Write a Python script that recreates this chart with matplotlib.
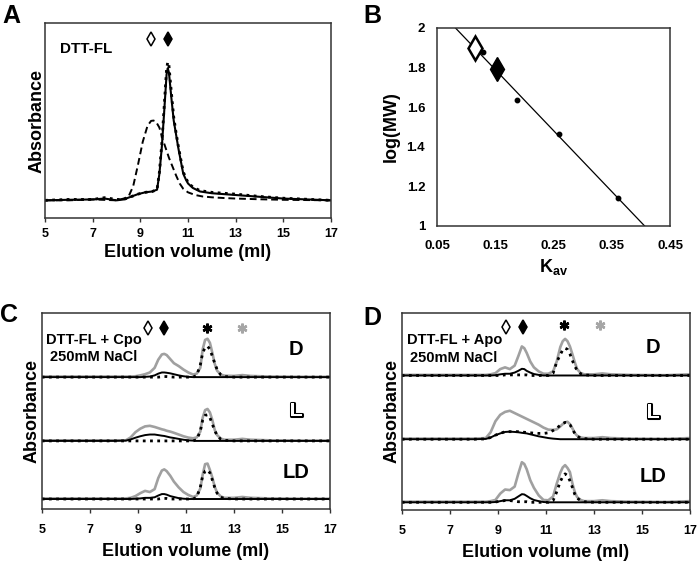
import matplotlib
matplotlib.use("Agg")
import matplotlib.pyplot as plt
import matplotlib.patheffects as pe
import numpy as np

plt.rcParams['font.family'] = ['Liberation Sans', 'DejaVu Sans']
plt.rcParams['font.weight'] = 'bold'
plt.rcParams['mathtext.fontset'] = 'custom'
plt.rcParams['mathtext.bf'] = 'Liberation Sans:bold'
plt.rcParams['mathtext.rm'] = 'Liberation Sans:bold'

# ---- panel A: DTT-FL elution profiles ----
vol_a = [5, 6, 7, 7.5, 8, 8.3, 8.6, 8.9, 9.2, 9.5, 9.7, 9.8, 9.9, 10.0, 10.1, 10.15, 10.2,
         10.3, 10.4, 10.5, 10.6, 10.7, 10.8, 10.9, 11.0, 11.2, 11.5, 12, 12.5, 13, 14, 15, 16, 17]
a_solid = [0, 0.003, 0.005, 0.01, 0.0, 0.005, 0.02, 0.035, 0.045, 0.05, 0.06, 0.15, 0.30, 0.50,
           0.71, 0.745, 0.72, 0.58, 0.45, 0.37, 0.29, 0.22, 0.15, 0.12, 0.095, 0.07, 0.05, 0.04,
           0.035, 0.03, 0.02, 0.01, 0.005, 0]
a_dotted = [0, 0.005, 0.005, 0.015, 0.005, 0.005, 0.02, 0.035, 0.045, 0.05, 0.06, 0.16, 0.32,
            0.53, 0.74, 0.78, 0.76, 0.61, 0.47, 0.38, 0.30, 0.23, 0.16, 0.13, 0.10, 0.075, 0.055,
            0.045, 0.04, 0.035, 0.022, 0.012, 0.006, 0]
vol_a_dash = [5, 6, 7, 8, 8.3, 8.5, 8.7, 8.9, 9.1, 9.3, 9.45, 9.55, 9.65, 9.8, 9.9, 10.0, 10.1,
              10.2, 10.35, 10.5, 10.65, 10.8, 11.0, 11.3, 11.6, 12, 12.5, 13, 14, 15, 17]
a_dashed = [0, 0, 0.005, 0, 0.01, 0.02, 0.08, 0.2, 0.33, 0.42, 0.448, 0.45, 0.445, 0.41, 0.36,
            0.32, 0.28, 0.24, 0.19, 0.14, 0.095, 0.065, 0.045, 0.03, 0.022, 0.017, 0.013, 0.01,
            0.006, 0.003, 0]
a_marks = [9.45, 10.15]   # open / filled diamond

# ---- panel B: calibration ----
kav_std = [0.1295, 0.1868, 0.26, 0.3613]
logmw_std = [1.877, 1.636, 1.465, 1.141]
kav_sample = [0.1152, 0.1525]
logmw_sample = [1.90, 1.791]

# ---- panels C and D: three runs each (D, L, LD) ----
rows = ['D', 'L', 'LD']
vol_cd = [5, 6, 7, 8, 8.5, 8.7, 8.9, 9.1, 9.3, 9.5, 9.7, 9.85, 10.0, 10.1, 10.2, 10.35, 10.5,
          10.7, 10.9, 11.1, 11.3, 11.45, 11.6, 11.7, 11.8, 11.9, 12.0, 12.1, 12.2, 12.3, 12.45,
          12.6, 13.0, 13.35, 13.7, 14.5, 16, 17]

c_gray = [
    [0.01, 0.01, 0.01, 0.01, 0.01, 0.01, 0.015, 0.03, 0.05, 0.08, 0.16, 0.30, 0.39, 0.40, 0.38,
     0.31, 0.24, 0.19, 0.13, 0.08, 0.045, 0.06, 0.16, 0.48, 0.64, 0.66, 0.59, 0.42, 0.23, 0.11,
     0.045, 0.025, 0.02, 0.035, 0.02, 0.01, 0.005, 0.005],
    [0.01, 0.01, 0.01, 0.01, 0.01, 0.06, 0.15, 0.21, 0.25, 0.26, 0.24, 0.22, 0.20, 0.19, 0.175,
     0.16, 0.14, 0.11, 0.08, 0.057, 0.045, 0.06, 0.16, 0.40, 0.53, 0.55, 0.49, 0.36, 0.19, 0.10,
     0.04, 0.02, 0.02, 0.035, 0.02, 0.01, 0.005, 0.005],
    [0.01, 0.01, 0.01, 0.01, 0.01, 0.02, 0.05, 0.10, 0.14, 0.12, 0.17, 0.36, 0.49, 0.51, 0.48,
     0.40, 0.30, 0.20, 0.12, 0.07, 0.035, 0.06, 0.18, 0.42, 0.60, 0.61, 0.50, 0.37, 0.21, 0.11,
     0.045, 0.02, 0.02, 0.035, 0.02, 0.01, 0.005, 0.005],
]
c_black = [
    [0, 0, 0, 0, 0, 0, 0, 0, 0.005, 0.01, 0.03, 0.06, 0.08, 0.08, 0.075, 0.065, 0.05, 0.03, 0.015,
     0.005, 0, 0, 0, 0, 0, 0, 0, 0, 0, 0, 0, 0, 0, 0, 0, 0, 0, 0],
    [0, 0, 0, 0, 0.005, 0.025, 0.055, 0.08, 0.10, 0.11, 0.11, 0.10, 0.09, 0.085, 0.075, 0.06,
     0.05, 0.035, 0.02, 0.01, 0.005, 0, 0, 0, 0, 0, 0, 0, 0, 0, 0, 0, 0, 0, 0, 0, 0, 0],
    [0, 0, 0, 0, 0, 0, 0.005, 0.01, 0.02, 0.02, 0.03, 0.06, 0.085, 0.085, 0.075, 0.05, 0.035,
     0.015, 0.005, 0, 0, 0, 0, 0, 0, 0, 0, 0, 0, 0, 0, 0, 0, 0, 0, 0, 0, 0],
]
c_dotted = [
    [0, 0, 0, 0, 0, 0, 0, 0, 0, 0, 0, 0, 0.005, 0.01, 0.01, 0.005, 0, 0, 0, 0, 0, 0.03, 0.21,
     0.42, 0.51, 0.53, 0.48, 0.36, 0.24, 0.13, 0.04, 0.01, 0, 0, 0, 0, 0, 0],
    [0, 0, 0, 0, 0, 0, 0, 0, 0, 0, 0, 0, 0, 0, 0, 0, 0, 0, 0, 0, 0, 0.02, 0.17, 0.36, 0.44, 0.45,
     0.40, 0.29, 0.18, 0.09, 0.03, 0.01, 0, 0, 0, 0, 0, 0],
    [0, 0, 0, 0, 0, 0, 0, 0, 0, 0, 0, 0, 0.01, 0.01, 0.01, 0, 0, 0, 0, 0, 0, 0.03, 0.20, 0.40,
     0.48, 0.50, 0.45, 0.33, 0.20, 0.10, 0.03, 0.01, 0, 0, 0, 0, 0, 0],
]

d_gray = [
    [0.01, 0.01, 0.01, 0.01, 0.01, 0.02, 0.04, 0.11, 0.14, 0.11, 0.17, 0.33, 0.50, 0.47, 0.39,
     0.24, 0.14, 0.07, 0.03, 0.03, 0.07, 0.24, 0.49, 0.59, 0.63, 0.59, 0.50, 0.37, 0.23, 0.11,
     0.04, 0.02, 0.02, 0.035, 0.02, 0.01, 0.005, 0.02],
    [0.01, 0.01, 0.01, 0.01, 0.02, 0.12, 0.31, 0.42, 0.47, 0.49, 0.45, 0.42, 0.39, 0.37, 0.35,
     0.32, 0.29, 0.25, 0.20, 0.165, 0.16, 0.17, 0.22, 0.26, 0.29, 0.30, 0.26, 0.19, 0.11, 0.06,
     0.03, 0.02, 0.02, 0.035, 0.02, 0.01, 0.005, 0.02],
    [0.01, 0.01, 0.01, 0.01, 0.01, 0.02, 0.04, 0.15, 0.22, 0.21, 0.27, 0.49, 0.69, 0.66, 0.57,
     0.38, 0.25, 0.12, 0.04, 0.035, 0.10, 0.32, 0.51, 0.60, 0.64, 0.59, 0.52, 0.33, 0.18, 0.09,
     0.04, 0.02, 0.02, 0.035, 0.02, 0.01, 0.005, 0.02],
]
d_black = [
    [0, 0, 0, 0, 0, 0, 0.005, 0.02, 0.03, 0.03, 0.05, 0.08, 0.115, 0.11, 0.08, 0.05, 0.025, 0.01,
     0, 0, 0, 0, 0, 0, 0, 0, 0, 0, 0, 0, 0, 0, 0, 0, 0, 0, 0, 0],
    [0, 0, 0, 0, 0.005, 0.03, 0.07, 0.10, 0.125, 0.13, 0.125, 0.12, 0.11, 0.105, 0.10, 0.085,
     0.07, 0.05, 0.035, 0.02, 0.01, 0.005, 0, 0, 0, 0, 0, 0, 0, 0, 0, 0, 0, 0, 0, 0, 0, 0],
    [0, 0, 0, 0, 0, 0, 0.005, 0.02, 0.035, 0.035, 0.06, 0.10, 0.14, 0.135, 0.11, 0.07, 0.04,
     0.02, 0.005, 0, 0, 0, 0, 0, 0, 0, 0, 0, 0, 0, 0, 0, 0, 0, 0, 0, 0, 0],
]
d_dotted = [
    [0, 0, 0, 0, 0, 0, 0, 0, 0.01, 0.01, 0.01, 0.01, 0.01, 0.01, 0.01, 0, 0, 0, 0, 0, 0.04, 0.23,
     0.36, 0.44, 0.47, 0.45, 0.37, 0.26, 0.16, 0.09, 0.03, 0.01, 0, 0, 0, 0, 0, 0],
    [0, 0, 0, 0, 0.005, 0.03, 0.07, 0.10, 0.13, 0.13, 0.13, 0.13, 0.12, 0.12, 0.115, 0.11,
     0.105, 0.10, 0.10, 0.11, 0.15, 0.19, 0.24, 0.27, 0.29, 0.28, 0.25, 0.18, 0.10, 0.05, 0.02,
     0.01, 0, 0, 0, 0, 0, 0],
    [0, 0, 0, 0, 0, 0, 0.005, 0.02, 0.03, 0.03, 0.02, 0.01, 0.01, 0.01, 0.01, 0, 0, 0, 0, 0,
     0.03, 0.18, 0.36, 0.44, 0.49, 0.46, 0.37, 0.26, 0.14, 0.07, 0.03, 0.01, 0, 0, 0, 0, 0, 0],
]
c_marks = [9.44, 10.1, 11.87, 13.32]   # open diamond, filled diamond, black *, grey *
d_marks = [9.33, 10.03, 11.75, 13.25]

vol_ticks = [5, 7, 9, 11, 13, 15, 17]
GRAY = '#a0a0a0'
DOT = (0, (1, 1.6))


def frame(ax):
    for s in ax.spines.values():
        s.set_linewidth(1.1)
        s.set_color('#333333')


def elution_axes(ax, pad):
    ax.set_xlim(5, 17)
    ax.set_xticks(vol_ticks)
    ax.set_xticklabels([str(v) for v in vol_ticks], fontsize=9, fontweight='bold')
    ax.set_yticks([])
    ax.tick_params(axis='x', direction='out', length=3, width=1, pad=pad, color='#333333')
    ax.set_xlabel('Elution volume (ml)', fontsize=13, fontweight='bold')
    ax.set_ylabel('Absorbance', fontsize=13, fontweight='bold')
    frame(ax)


def diamonds(ax, xs, y):
    tr = ax.get_xaxis_transform()
    ax.plot([xs[0]], [y], transform=tr, marker='d', ms=6.8, mfc='white', mec='black',
            mew=1.1, clip_on=False, ls='none')
    ax.plot([xs[1]], [y], transform=tr, marker='d', ms=6.8, mfc='black', mec='black',
            mew=1.1, clip_on=False, ls='none')


fig = plt.figure(figsize=(7, 5.62), dpi=100)

# ---------- A ----------
axA = fig.add_axes([0.0643, 0.612, 0.4086, 0.347])
axA.plot(vol_a, a_solid, color='black', lw=1.5)
axA.plot(vol_a, a_dotted, color='black', lw=2.0, ls=DOT)
axA.plot(vol_a_dash, a_dashed, color='black', lw=1.4, ls=(0, (3.5, 2)))
axA.set_ylim(-0.1, 1.0)
elution_axes(axA, 4.0)
axA.xaxis.set_label_coords(0.5, -0.135)
axA.yaxis.set_label_coords(0.003, 0.5)
diamonds(axA, a_marks, 0.918)
axA.text(0.052, 0.845, 'DTT-FL', transform=axA.transAxes, fontsize=11, fontweight='bold',
         ha='left', va='baseline')

# ---------- B ----------
axB = fig.add_axes([0.6243, 0.5979, 0.3329, 0.3523])
m, b = np.polyfit(kav_std, logmw_std, 1)
xs = np.array([0.05, 0.45])
axB.plot(xs, m * xs + b, color='black', lw=0.9)
axB.plot(kav_std, logmw_std, 'o', color='black', ms=3.2)
axB.plot(kav_sample[:1], logmw_sample[:1], marker='d', ms=12, mfc='white', mec='black',
         mew=1.8, ls='none')
axB.plot(kav_sample[1:], logmw_sample[1:], marker='d', ms=12, mfc='black', mec='black',
         mew=1.0, ls='none')
axB.set_xlim(0.05, 0.45)
axB.set_ylim(1, 2)
axB.set_xticks([0.05, 0.15, 0.25, 0.35, 0.45])
axB.set_xticklabels(['0.05', '0.15', '0.25', '0.35', '0.45'], fontsize=9.5, fontweight='bold')
axB.set_yticks([1, 1.2, 1.4, 1.6, 1.8, 2])
axB.set_yticklabels(['1', '1.2', '1.4', '1.6', '1.8', '2'], fontsize=9.5, fontweight='bold')
axB.tick_params(axis='x', length=0, pad=10)
axB.tick_params(axis='y', length=0, pad=8.5)
axB.set_xlabel(r'$\mathbf{K}_{\mathbf{av}}$', fontsize=13)
axB.set_ylabel('log(MW)', fontsize=13, fontweight='bold')
axB.xaxis.set_label_coords(0.5, -0.155)
axB.yaxis.set_label_coords(-0.161, 0.5)
frame(axB)


# ---------- C and D ----------
def stacked(ax, gray, black, dotted, offsets, ylim, marks, mark_y, star_y, title, lab_x, lab_y):
    for i in range(3):
        off = offsets[i]
        ax.plot(vol_cd, np.array(gray[i]) + off, color=GRAY, lw=1.9)
        ax.plot(vol_cd, np.array(black[i]) + off, color='black', lw=1.4)
        ax.plot(vol_cd, np.array(dotted[i]) + off, color='black', lw=2.0, ls=DOT)
    ax.set_ylim(*ylim)
    elution_axes(ax, 8.0)
    ax.xaxis.set_label_coords(0.5, -0.175)
    ax.yaxis.set_label_coords(-0.004, 0.5)
    diamonds(ax, marks[:2], mark_y)
    tr = ax.get_xaxis_transform()
    ax.plot([marks[2]], [star_y], transform=tr, marker=(6, 2, 0), ms=7, mew=1.8,
            color='black', clip_on=False, ls='none')
    ax.plot([marks[3]], [star_y], transform=tr, marker=(6, 2, 0), ms=7, mew=1.8,
            color='#a6a6a6', clip_on=False, ls='none')
    ax.text(0.182, 0.843, title, transform=ax.transAxes, fontsize=10.5, fontweight='bold',
            ha='center', va='baseline')
    ax.text(0.181, 0.753, '250mM NaCl', transform=ax.transAxes, fontsize=10.5,
            fontweight='bold', ha='center', va='baseline')
    for i, r in enumerate(rows):
        t = ax.text(lab_x, lab_y[i], r, transform=ax.transAxes, fontsize=14.5,
                    fontweight='bold', ha='center', va='baseline')
        if r == 'L':
            t.set_color('white')
            t.set_path_effects([pe.withStroke(linewidth=2.2, foreground='black')])


axC = fig.add_axes([0.0596, 0.0943, 0.4119, 0.3488])
stacked(axC, c_gray, c_black, c_dotted, [2.098, 1.0, 0.0], (-0.172, 3.202), c_marks,
        0.923, 0.923, 'DTT-FL + Cpo', 0.882, [0.787, 0.472, 0.158])

axD = fig.add_axes([0.5739, 0.0934, 0.4119, 0.3497])
stacked(axD, d_gray, d_black, d_dotted, [2.183, 1.086, 0.0], (-0.124, 3.259), d_marks,
        0.927, 0.94, 'DTT-FL + Apo', 0.872, [0.796, 0.465, 0.142])

# panel letters
for x, y, s in [(0.003, 0.959, 'A'), (0.519, 0.959, 'B'), (0.0, 0.4276, 'C'), (0.519, 0.4217, 'D')]:
    fig.text(x, y, s, fontsize=18, fontweight='bold', ha='left', va='baseline')

fig.savefig('out.png', dpi=100)
